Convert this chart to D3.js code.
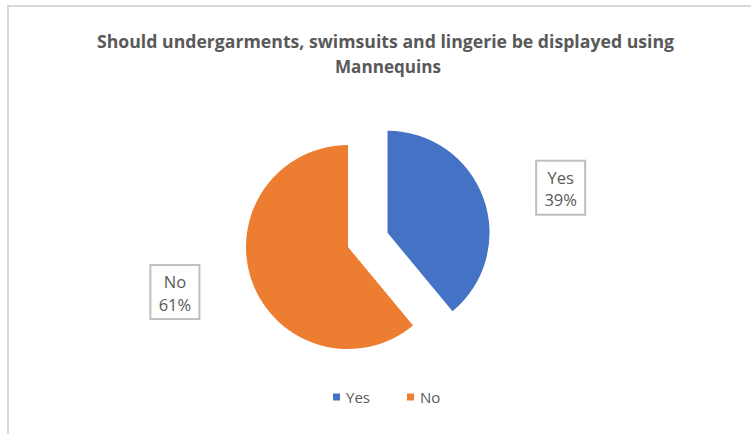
<!DOCTYPE html>
<html>
<head>
<meta charset="utf-8">
<script src="https://cdn.jsdelivr.net/npm/d3@7"></script>
<style>
  body { margin: 0; background: #fff; }
  text { font-family: "Open Sans", "Liberation Sans", sans-serif; fill: #595959; }
</style>
</head>
<body>
<div id="chart"></div>
<script>
var categories = ["Yes", "No"];
var values = [39, 61];
var colors = ["#4472C4", "#ED7D31"];
var titleLines = ["Should undergarments, swimsuits and lingerie be displayed using", "Mannequins"];

var width = 751,
    height = 434,
    cx = 348,
    cy = 247,
    radius = 102,
    explode = 42;   // only "Yes" is pulled out

var svg = d3.select("#chart")
    .append("svg")
    .attr("width", width)
    .attr("height", height);

// chart frame (runs off the right / bottom of the picture)
svg.append("rect")
    .attr("x", 8)
    .attr("y", 6)
    .attr("width", 800)
    .attr("height", 500)
    .attr("fill", "#fff")
    .attr("stroke", "#d9d9d9")
    .attr("stroke-width", 2);

// title
svg.selectAll(".title")
    .data(titleLines)
    .enter()
    .append("text")
    .attr("class", "title")
    .attr("x", function(d, i) { return i == 0 ? 385.5 : 388; })
    .attr("y", function(d, i) { return 48 + i * 25; })
    .attr("text-anchor", "middle")
    .attr("textLength", function(d, i) { return i == 0 ? 577 : 106; })
    .attr("lengthAdjust", "spacingAndGlyphs")
    .style("font-size", "17px")
    .style("font-weight", "bold")
    .text(function(d) { return d; });

var pie = d3.pie().sort(null).value(function(d) { return d; });
var arcs = pie(values);

var arc = d3.arc().innerRadius(0).outerRadius(radius);

function offset(d, i) {
    var a = (d.startAngle + d.endAngle) / 2;
    var e = i == 0 ? explode : 0;
    return [cx + Math.sin(a) * e, cy - Math.cos(a) * e];
}

var g = svg.append("g");

g.selectAll("path")
    .data(arcs)
    .enter()
    .append("path")
    .attr("transform", function(d, i) { var p = offset(d, i); return `translate(${p[0]},${p[1]})`; })
    .attr("d", arc)
    .attr("fill", function(d, i) { return colors[i]; });

// data labels in boxes
var labels = svg.selectAll(".lbl")
    .data(arcs)
    .enter()
    .append("g")
    .attr("class", "lbl")
    .attr("transform", function(d, i) {
        var p = offset(d, i);
        var a = (d.startAngle + d.endAngle) / 2;
        return `translate(${p[0] + Math.sin(a) * 184},${p[1] - Math.cos(a) * 133})`;
    });

labels.append("rect")
    .attr("x", -24.5)
    .attr("y", -27)
    .attr("width", 49)
    .attr("height", 54)
    .attr("fill", "#fff")
    .attr("stroke", "#bfbfbf")
    .attr("stroke-width", 2);

labels.append("text")
    .attr("text-anchor", "middle")
    .attr("y", -4)
    .style("font-size", "16.5px")
    .text(function(d, i) { return categories[i]; });

labels.append("text")
    .attr("text-anchor", "middle")
    .attr("y", 18.5)
    .style("font-size", "16.5px")
    .text(function(d) { return Math.round(d.value) + "%"; });

// legend
var legendX = d3.scaleOrdinal().domain(categories).range([333, 407]);

var legend = svg.selectAll(".legend")
    .data(categories)
    .enter()
    .append("g")
    .attr("class", "legend")
    .attr("transform", function(d) { return `translate(${legendX(d)},397)`; });

legend.append("rect")
    .attr("x", 0)
    .attr("y", -3.5)
    .attr("width", 7)
    .attr("height", 7)
    .attr("fill", function(d, i) { return colors[i]; });

legend.append("text")
    .attr("x", 13)
    .attr("y", 5.5)
    .style("font-size", "15px")
    .text(function(d) { return d; });
</script>
</body>
</html>
